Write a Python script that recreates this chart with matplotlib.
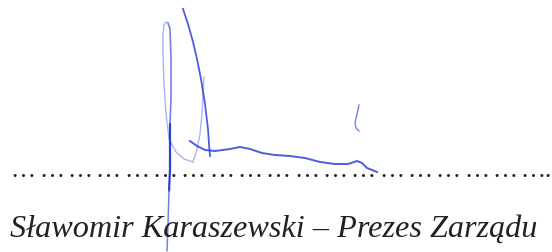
import matplotlib
matplotlib.use("Agg")
import matplotlib.pyplot as plt

W, H = 552, 253

name_text = "Sławomir Karaszewski – Prezes Zarządu"
dot_group = "…"
dot_groups = 18
dot_tail = "…."

# signature strokes (pixel coordinates)
loop_left_x = [193, 184, 176, 169, 166, 164, 163, 163, 164, 166, 168]
loop_left_y = [163, 160, 153, 140, 115, 85, 55, 35, 26, 23, 24]
loop_top_x = [168, 170, 171, 171, 170]
loop_top_y = [24, 30, 60, 100, 125]
loop_mid_x = [170, 170, 170, 169]
loop_mid_y = [125, 140, 170, 192]
loop_low_x = [169, 168, 167]
loop_low_y = [192, 225, 252]
rise_x = [193, 197, 200, 202, 203, 204]
rise_y = [163, 150, 135, 115, 95, 78]
down_x = [183, 188, 193, 197, 201, 205, 208, 209, 210]
down_y = [10, 25, 43, 60, 80, 105, 130, 145, 157]
horiz_x = [190, 197, 205, 215, 230, 240, 250, 262, 275, 290, 305, 320, 335, 348, 357, 362, 367, 377]
horiz_y = [142, 147, 151, 152, 150, 148, 150, 154, 156, 157, 159, 163, 165, 165, 162, 164, 169, 173]
tick_x = [359, 357, 355, 356, 359]
tick_y = [106, 115, 124, 129, 132]

fig = plt.figure(figsize=(W / 100, H / 100), dpi=100)
ax = fig.add_axes([0, 0, 1, 1])
ax.set_xlim(0, W)
ax.set_ylim(H, 0)
ax.axis("off")

dark = "#2c40d8"
mid = "#6f82ea"
light = "#aab6f4"

# dotted line made of ellipsis characters
dot_fs = 18
period = 28.33
x0 = 10.8
for i in range(dot_groups):
    ax.text(x0 + i * period, 176.8, dot_group, fontfamily="Liberation Serif",
            fontsize=dot_fs, va="baseline", ha="left", color="#222222")
ax.text(x0 + dot_groups * period - 0.2, 176.8, dot_tail, fontfamily="Liberation Serif",
        fontsize=dot_fs, va="baseline", ha="left", color="#222222")

ax.plot(loop_left_x, loop_left_y, color=light, lw=1.0, solid_capstyle="round")
ax.plot(loop_top_x, loop_top_y, color=mid, lw=1.2, solid_capstyle="round")
ax.plot(loop_mid_x, loop_mid_y, color=dark, lw=1.6, solid_capstyle="round")
ax.plot(loop_low_x, loop_low_y, color=mid, lw=1.1, solid_capstyle="round")
ax.plot(rise_x, rise_y, color=light, lw=1.0)
ax.plot(down_x, down_y, color=dark, lw=1.3, alpha=0.85)
ax.plot(horiz_x, horiz_y, color=dark, lw=1.4, alpha=0.85)
ax.plot(tick_x, tick_y, color=mid, lw=1.0)

t = ax.text(10, 237, name_text, fontfamily="Liberation Serif", fontstyle="italic",
            fontsize=25, va="baseline", ha="left", color="#222222")
fig.canvas.draw()
w = t.get_window_extent().width
t.set_fontsize(25 * 527.0 / w)

fig.savefig("out.png", dpi=100)
